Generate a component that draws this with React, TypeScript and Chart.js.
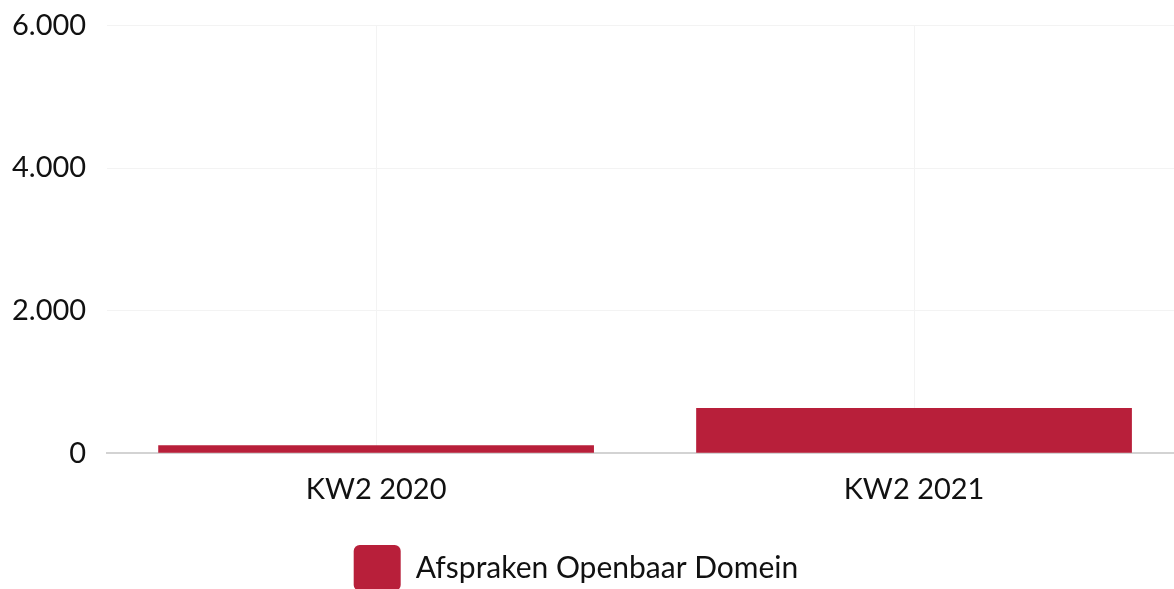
import React, { useEffect, useRef } from "react";
import { Chart, registerables } from "chart.js";

Chart.register(...registerables);

const categories = ["KW2 2020", "KW2 2021"];
const seriesLabel = "Afspraken Openbaar Domein";
const seriesValues = [112, 634];
const yTicks = [0, 2000, 4000, 6000];

const BAR_COLOR = "#B81F3A";
const FONT = "Lato, 'Noto Sans', sans-serif";

const legendShift = {
  id: "legendShift",
  afterLayout(chart: any) {
    const lg = chart.legend;
    if (lg) {
      lg.left -= 11;
      lg.right -= 11;
      lg.top -= 1;
      lg.bottom -= 1;
    }
  },
};

export default function App() {
  const ref = useRef<HTMLCanvasElement | null>(null);

  useEffect(() => {
    document.body.style.margin = "0";
    const canvas = ref.current;
    if (!canvas) return;
    const chart = new Chart(canvas, {
      type: "bar",
      data: {
        labels: categories,
        datasets: [
          {
            label: seriesLabel,
            data: seriesValues,
            backgroundColor: BAR_COLOR,
            borderWidth: 0,
            barPercentage: 0.9,
            categoryPercentage: 0.9,
          },
        ],
      },
      plugins: [legendShift],
      options: {
        animation: false,
        responsive: false,
        maintainAspectRatio: false,
        layout: { padding: { top: 0, left: 5, right: 0, bottom: 0 } },
        plugins: {
          tooltip: { enabled: false },
          legend: {
            position: "bottom",
            labels: {
              color: "#111",
              font: { family: FONT, size: 30 },
              boxWidth: 47,
              boxHeight: 46,
              useBorderRadius: true,
              borderRadius: 6,
              padding: 20,
            },
          },
        },
        scales: {
          x: {
            grid: { display: true, offset: false, color: "#f3f3f3", drawTicks: false },
            border: { display: true, color: "#d3d3d3", width: 2 },
            ticks: { color: "#111", font: { family: FONT, size: 29 }, padding: 19 },
          },
          y: {
            min: 0,
            max: 6000,
            afterBuildTicks: (axis: any) => {
              axis.ticks = yTicks.map((v) => ({ value: v }));
            },
            grid: { color: "#f3f3f3", drawTicks: false },
            border: { display: false },
            ticks: {
              color: "#111",
              font: { family: FONT, size: 29 },
              padding: 21,
              callback: (v: any) => Number(v).toLocaleString("nl-NL"),
            },
          },
        },
      },
    });
    return () => chart.destroy();
  }, []);

  return (
    <div style={{ width: 1174, height: 589, overflow: "hidden", position: "relative" }}>
      <canvas
        ref={ref}
        width={1197}
        height={615}
        style={{ display: "block", marginTop: -13, marginLeft: -14 }}
      />
    </div>
  );
}
